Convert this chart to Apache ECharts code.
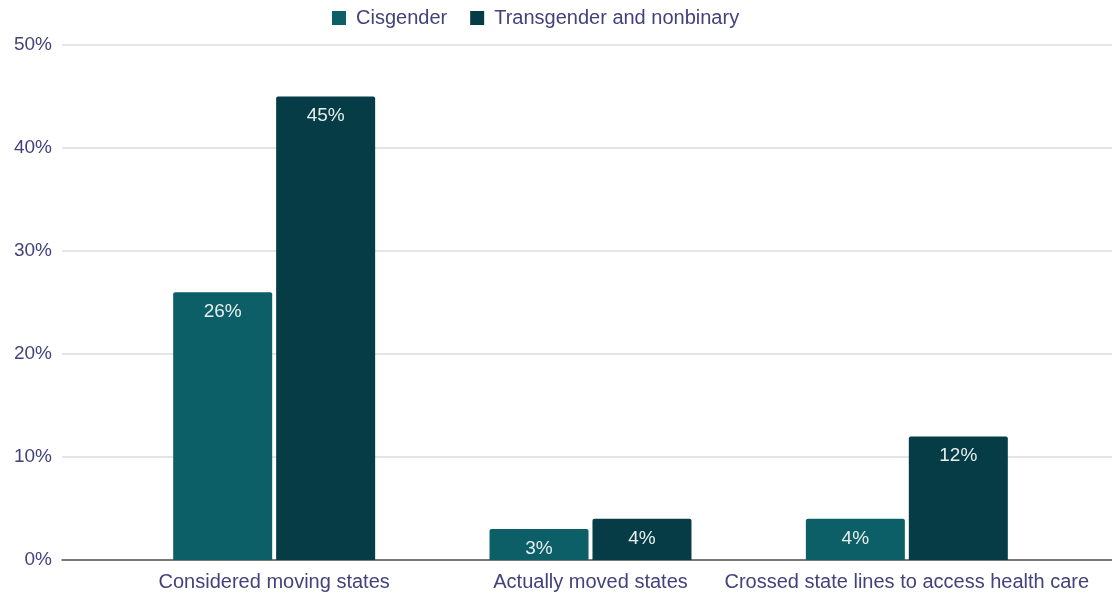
<!DOCTYPE html>
<html><head><meta charset="utf-8">
<script src="https://cdn.jsdelivr.net/npm/echarts@6/dist/echarts.min.js"></script>
<style>html,body{margin:0;padding:0;background:#fff}#c{width:1112px;height:596px}</style>
</head><body><div id="c"></div>
<script>
const categories = ["Considered moving states", "Actually moved states", "Crossed state lines to access health care"];
const cisgender = [26, 3, 4];
const transNonbinary = [45, 4, 12];
const seriesNames = ["Cisgender", "Transgender and nonbinary"];
const yTicks = [0, 10, 20, 30, 40, 50];

const axisTextColor = "#42427c";
const font = "Liberation Sans, Arial, sans-serif";
const chart = echarts.init(document.getElementById('c'));
chart.setOption({
  animation: false,
  backgroundColor: "#fff",
  legend: {
    top: 3, left: 327,
    itemWidth: 14, itemHeight: 14, itemGap: 23,
    icon: 'rect',
    textStyle: {color: axisTextColor, fontSize: 20, fontFamily: font, padding: [0, 0, 0, 5]},
    data: seriesNames
  },
  grid: [
    {left: 116, right: 47, top: 45, bottom: 36, containLabel: false},
    {left: 62, right: 0, top: 45, bottom: 36, containLabel: false}
  ],
  xAxis: [
    {type: 'category', gridIndex: 0, data: categories,
     axisLine: {show: false}, axisTick: {show: false},
     axisLabel: {color: axisTextColor, fontSize: 20, fontFamily: font, margin: 12, interval: 0}},
    {type: 'value', gridIndex: 1, min: 0, max: 1, show: true,
     axisLine: {show: true, onZero: false, lineStyle: {color: "#555", width: 1.5}},
     axisTick: {show: false}, axisLabel: {show: false}, splitLine: {show: false}}
  ],
  yAxis: [
    {type: 'value', gridIndex: 0, min: 0, max: 50, interval: 10, show: false,
     splitLine: {show: false}},
    {type: 'value', gridIndex: 1, min: yTicks[0], max: yTicks[yTicks.length-1], interval: 10,
     axisLine: {show: false}, axisTick: {show: false},
     axisLabel: {color: axisTextColor, fontSize: 19, fontFamily: font, margin: 10, formatter: v => v + '%'},
     splitLine: {lineStyle: {color: "#dcdcdc", width: 1.5}}}
  ],
  series: [
    {name: seriesNames[0], type: 'bar', xAxisIndex: 0, yAxisIndex: 0, data: cisgender,
     barWidth: 99, barGap: '4%', z: 3,
     itemStyle: {color: "#0c5f67", borderRadius: [2,2,0,0]},
     label: {show: true, position: 'insideTop', distance: 10, color: "#e6eeee", fontSize: 19, fontFamily: font, formatter: p => p.value + '%'}},
    {name: seriesNames[1], type: 'bar', xAxisIndex: 0, yAxisIndex: 0, data: transNonbinary,
     barWidth: 99, barGap: '4%', z: 3,
     itemStyle: {color: "#053c46", borderRadius: [2,2,0,0]},
     label: {show: true, position: 'insideTop', distance: 10, color: "#e6eeee", fontSize: 19, fontFamily: font, formatter: p => p.value + '%'}}
  ]
});
</script></body></html>
